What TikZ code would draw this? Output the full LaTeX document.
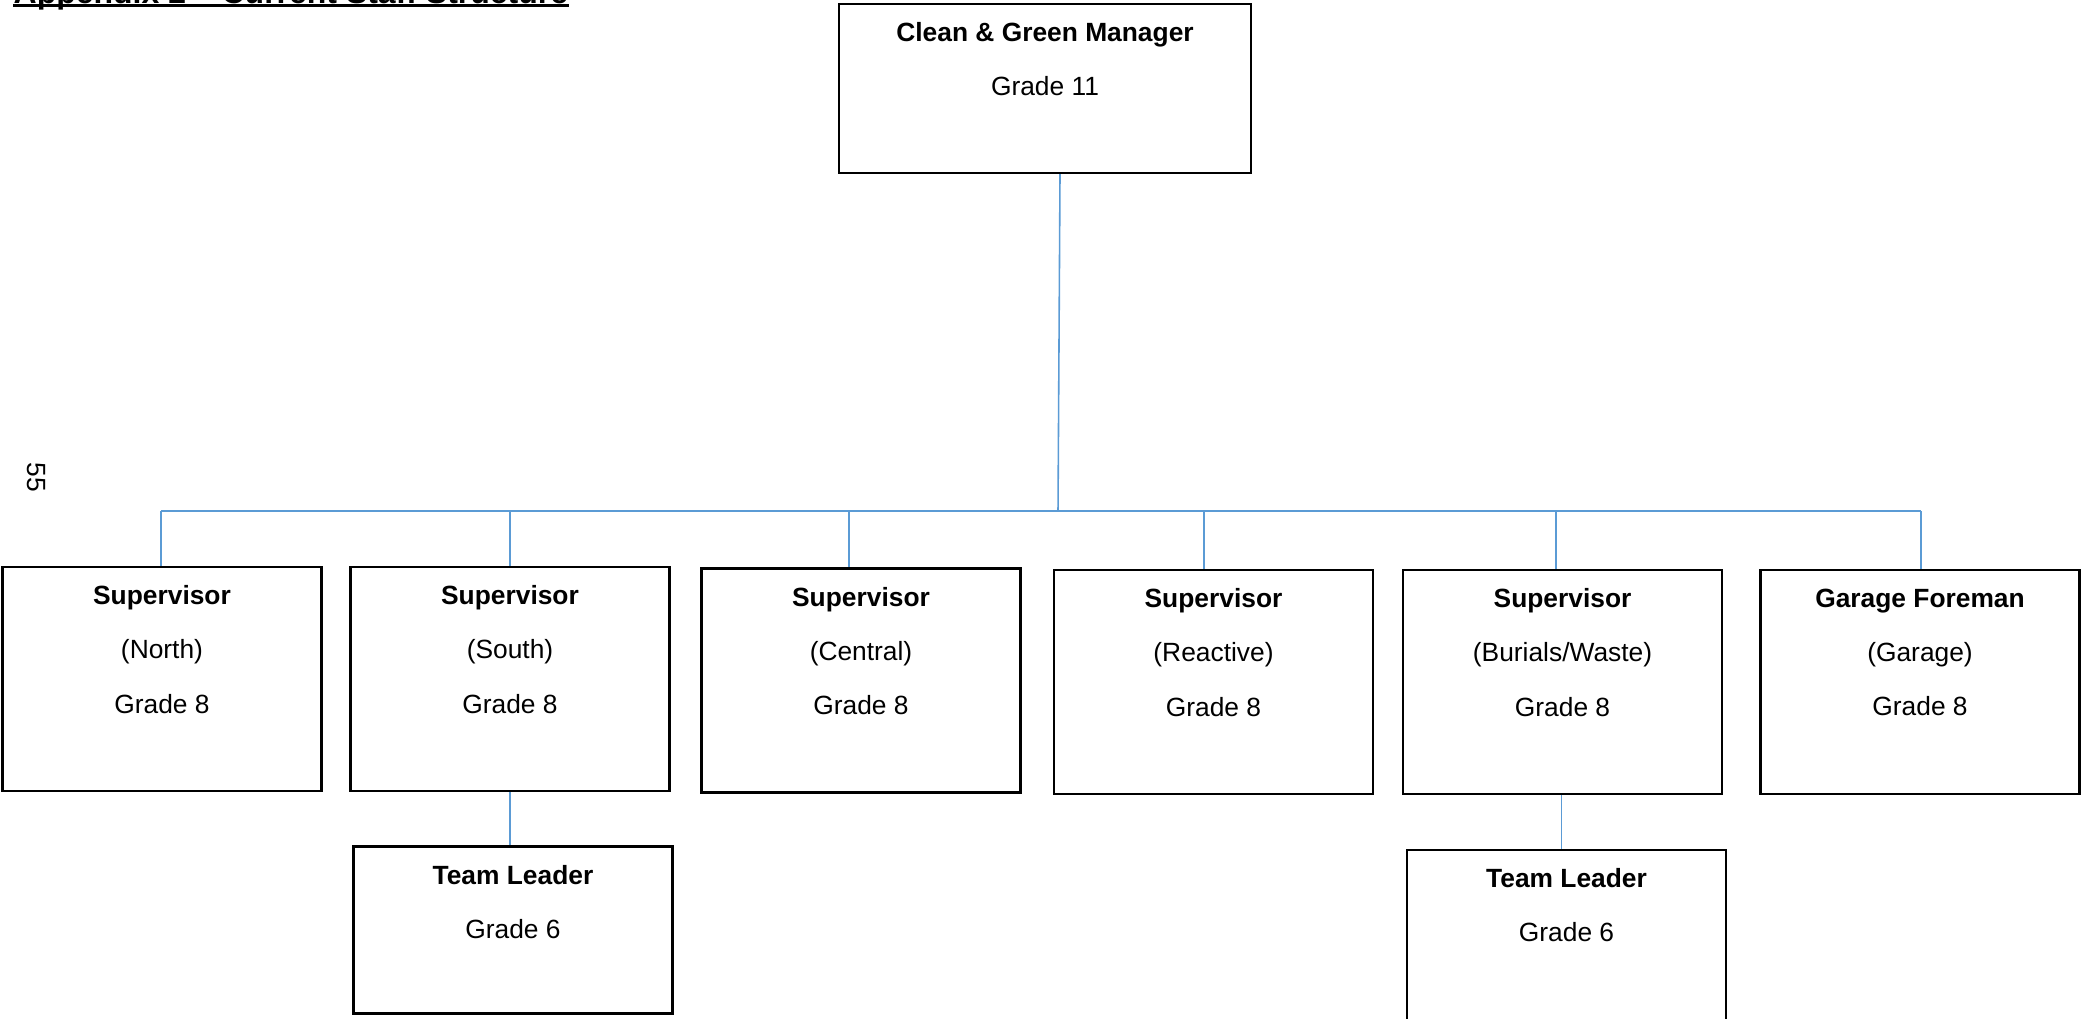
\documentclass[tikz,border=0pt]{standalone}
\usepackage{fontspec}
\setmainfont{Liberation Sans}
\usetikzlibrary{positioning,calc}
\definecolor{linkblue}{RGB}{91,155,213}

\begin{document}
\begin{tikzpicture}[
  post/.style={draw,line width=0.6pt,inner sep=0pt,minimum width=3.19cm,minimum height=2.24cm},
  leader/.style={post,minimum height=1.67cm},
  txt/.style={anchor=north,align=center,inner sep=0pt,yshift=-0.19cm,font=\fontsize{7.5}{15.4}\selectfont},
  link/.style={linkblue,line width=0.45pt}]
  \useasboundingbox (0,0) rectangle (20.82,-10.18);
  \clip (0,0) rectangle (20.82,-10.18);
  % heading, cut off by the page edge
  \node[anchor=base west,inner sep=0pt,font=\fontsize{9.1}{11}\selectfont\bfseries] (title) at (0.13,-0.03) {Appendix 2 – Current Staff Structure};
  \draw[line width=0.85pt] ([yshift=-0.8pt]title.base west) -- ([yshift=-0.8pt]title.base east);
  \node[rotate=-90,inner sep=0pt,font=\fontsize{7.5}{9}\selectfont] (page) at (0.36,-4.77) {55};
  % manager
  \node[post,minimum width=4.12cm,minimum height=1.69cm] (mgr) at (10.45,-0.885) {};
  \node[txt] (mgr-t) at (mgr.north) {\bfseries Clean \& Green Manager\\Grade 11};
  % supervisors
  \node[post] (north) at (1.62,-6.79) {};
  \node[txt] (north-t) at (north.north) {\bfseries Supervisor\\(North)\\Grade 8};
  \node[post] (south) at (5.10,-6.79) {};
  \node[txt] (south-t) at (south.north) {\bfseries Supervisor\\(South)\\Grade 8};
  \node[post] (central) at (8.61,-6.805) {};
  \node[txt] (central-t) at (central.north) {\bfseries Supervisor\\(Central)\\Grade 8};
  \node[post] (reactive) at (12.135,-6.82) {};
  \node[txt] (reactive-t) at (reactive.north) {\bfseries Supervisor\\(Reactive)\\Grade 8};
  \node[post] (burials) at (15.625,-6.82) {};
  \node[txt] (burials-t) at (burials.north) {\bfseries Supervisor\\(Burials/Waste)\\Grade 8};
  \node[post] (garage) at (19.20,-6.82) {};
  \node[txt] (garage-t) at (garage.north) {\bfseries Garage Foreman\\(Garage)\\Grade 8};
  % team leaders
  \node[leader] (tl-south) at (5.13,-9.30) {};
  \node[txt] (tl-south-t) at (tl-south.north) {\bfseries Team Leader\\Grade 6};
  \node[leader,minimum height=1.72cm] (tl-burials) at (15.665,-9.36) {};
  \node[txt] (tl-burials-t) at (tl-burials.north) {\bfseries Team Leader\\Grade 6};
  % connectors
  \coordinate (hub) at (10.58,-5.11);
  \draw[link] ([xshift=0.15cm]mgr.south) -- (hub);
  \coordinate (d1) at (1.61,-5.11);
  \coordinate (d2) at (5.10,-5.11);
  \coordinate (d3) at (8.49,-5.11);
  \coordinate (d4) at (12.04,-5.11);
  \coordinate (d5) at (15.56,-5.11);
  \coordinate (d6) at (19.21,-5.11);
  \draw[link] (d1) -- (d6);
  \draw[link] (d1) -- (d1 |- north.north);
  \draw[link] (d2) -- (d2 |- south.north);
  \draw[link] (d3) -- (d3 |- central.north);
  \draw[link] (d4) -- (d4 |- reactive.north);
  \draw[link] (d5) -- (d5 |- burials.north);
  \draw[link] (d6) -- (d6 |- garage.north);
  \draw[link] (south.south) -- (south.south |- tl-south.north);
  \draw[link] ([xshift=-0.01cm]burials.south) -- ([xshift=-0.01cm]burials.south |- tl-burials.north);
\end{tikzpicture}
\end{document}
